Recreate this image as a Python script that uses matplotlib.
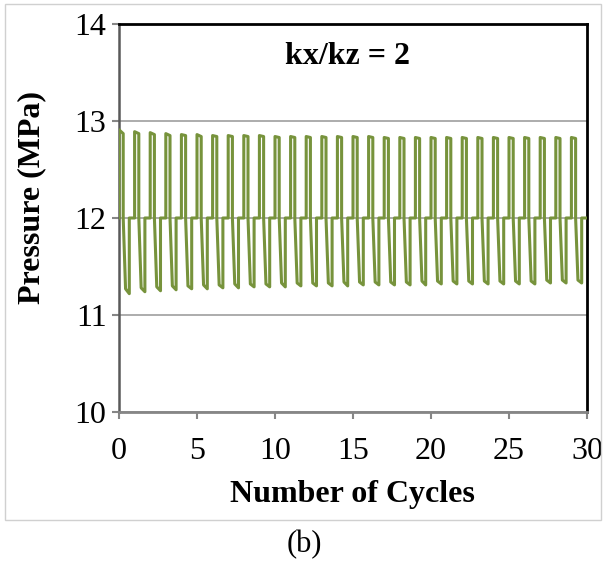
import matplotlib
matplotlib.use("Agg")
import matplotlib.pyplot as plt
from matplotlib.patches import Rectangle

# peak pressure at start / end of each injection pulse (MPa), cycles 0..29
peak_start = [12.91, 12.89, 12.88, 12.87, 12.86, 12.86, 12.85, 12.85, 12.85, 12.85,
              12.84, 12.84, 12.84, 12.84, 12.84, 12.84, 12.84, 12.83, 12.83, 12.83,
              12.83, 12.83, 12.83, 12.83, 12.83, 12.83, 12.83, 12.83, 12.83, 12.83]
peak_end = [12.87, 12.87, 12.86, 12.85, 12.85, 12.84, 12.84, 12.84, 12.84, 12.84,
            12.83, 12.83, 12.83, 12.83, 12.83, 12.83, 12.83, 12.82, 12.82, 12.82,
            12.82, 12.82, 12.82, 12.82, 12.82, 12.82, 12.82, 12.82, 12.82, 12.82]
# trough pressure at start / end of each production pulse (MPa)
trough_start = [11.27, 11.28, 11.29, 11.30, 11.30, 11.31, 11.31, 11.32, 11.32, 11.32,
                11.33, 11.33, 11.33, 11.33, 11.34, 11.34, 11.34, 11.34, 11.34, 11.35,
                11.35, 11.35, 11.35, 11.35, 11.35, 11.35, 11.35, 11.36, 11.36, 11.36]
trough_end = [11.22, 11.24, 11.25, 11.26, 11.27, 11.27, 11.28, 11.28, 11.29, 11.29,
              11.29, 11.30, 11.30, 11.30, 11.30, 11.31, 11.31, 11.31, 11.31, 11.31,
              11.32, 11.32, 11.32, 11.32, 11.32, 11.32, 11.32, 11.33, 11.33, 11.33]
p_rest = 12.0
n_cycles = 30

# timing inside one cycle (fraction of a cycle)
t_inj_end = 0.27
t_prod_low = 0.42
t_prod_end = 0.66

x, y = [], []
for k in range(n_cycles):
    x += [k, k, k + t_inj_end, k + t_inj_end, k + t_prod_low, k + t_prod_end, k + t_prod_end]
    y += [p_rest, peak_start[k], peak_end[k], p_rest, trough_start[k], trough_end[k], p_rest]
x.append(n_cycles)
y.append(p_rest)

plt.rcParams['font.family'] = ['Liberation Serif', 'DejaVu Serif']

fig = plt.figure(figsize=(6.13, 5.64), dpi=100)
ax = fig.add_axes([119/613, 1 - 412/564, 468/613, 388/564])

ax.plot(x, y, color='#77933C', linewidth=2.2, zorder=3)

ax.set_xlim(0, 30)
ax.set_ylim(10, 14)
ax.set_xticks(range(0, 31, 5))
ax.set_yticks(range(10, 15))
ax.yaxis.grid(True, color='#a6a6a6', linewidth=1.3)
ax.set_axisbelow(True)

for side in ['top', 'right']:
    ax.spines[side].set_color('black')
    ax.spines[side].set_linewidth(2.0)
ax.spines['left'].set_color('#595959')
ax.spines['left'].set_linewidth(1.8)
ax.spines['bottom'].set_color('#868686')
ax.spines['bottom'].set_linewidth(2.0)

ax.tick_params(axis='both', direction='out', length=5, width=1.5,
               color='#868686', labelsize=23, labelcolor='black')
ax.tick_params(axis='y', pad=4)
ax.tick_params(axis='x', pad=13)

ax.set_xlabel("Number of Cycles", fontsize=23, fontweight='bold')
ax.xaxis.set_label_coords(0.498, -0.175)
ax.set_ylabel("Pressure (MPa)", fontsize=23, fontweight='bold')
ax.yaxis.set_label_coords(-0.155, 0.554)

ax.text(0.489, 0.915, "kx/kz = 2", transform=ax.transAxes, fontsize=23,
        fontweight='bold', ha='center', va='center')

fig.text(304/613, 1 - 545/564, "(b)", fontsize=22, ha='center', va='center')

# light frame round the chart picture
fig.patches.append(Rectangle((5/613, 1 - 520/564), 596/613, 516/564,
                             transform=fig.transFigure, fill=False,
                             edgecolor='#d0d0d0', linewidth=1.0))

fig.savefig("out.png", dpi=100)
